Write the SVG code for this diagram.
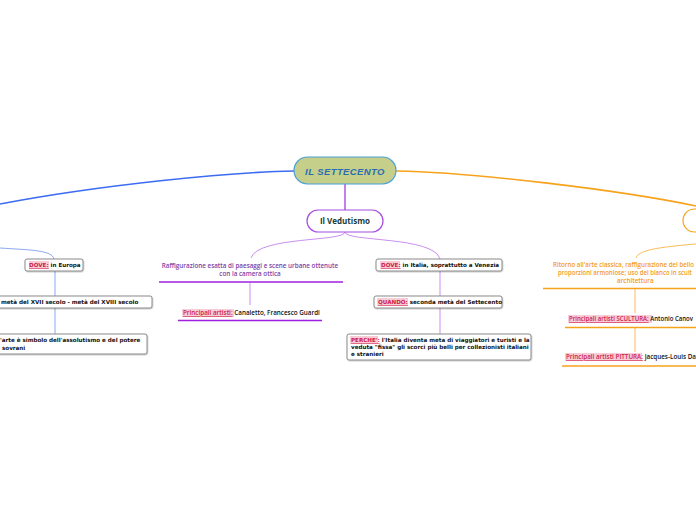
<svg xmlns="http://www.w3.org/2000/svg" width="696" height="520" viewBox="0 0 696 520">
<style>
.box{fill:#fff;stroke:#8a8a8a;stroke-width:1}
.bt{font-family:"DejaVu Sans",Verdana,sans-serif;font-weight:bold;font-size:5.6px;fill:#111}
.lab{fill:#d0204a;text-decoration:underline}
.hl{fill:#f6cdd6}
.pt{font-family:"Open Sans","Noto Sans",sans-serif;font-weight:600;font-size:6.3px;fill:#7b3fa8}
.ot{font-family:"Open Sans","Noto Sans",sans-serif;font-weight:600;font-size:6.3px;fill:#f39a1c}
.at{font-family:"Open Sans","Noto Sans",sans-serif;font-weight:600;font-size:6.3px;fill:#111}
.al{fill:#d0204a;text-decoration:underline}
</style>
<defs>
<filter id="sh" x="-10%" y="-30%" width="120%" height="160%"><feDropShadow dx="0.6" dy="0.8" stdDeviation="0.6" flood-color="#000" flood-opacity="0.25"/></filter>
</defs>
<g id="connectors" fill="none">
<path d="M294,171 C230,172 100,185 0,204" stroke="#3b6cf2" stroke-width="1.6"/>
<path d="M0,248 C30,250 52,250 54,259" stroke="#8aa8f2" stroke-width="1"/>
<path d="M55,271 V296" stroke="#8aa8f2" stroke-width="1"/>
<path d="M55,308 V334" stroke="#8aa8f2" stroke-width="1"/>
<path d="M396,171 C470,172 620,190 696,206" stroke="#f7a21b" stroke-width="1.6"/>
<path d="M696,244 C660,247 638,250 636,258" stroke="#f8bc5c" stroke-width="1"/>
<path d="M635,289 V313" stroke="#f8bc5c" stroke-width="1"/>
<path d="M635,328 V352" stroke="#f8bc5c" stroke-width="1"/>
<path d="M345,184 V210" stroke="#a64ce0" stroke-width="1.4"/>
<path d="M345,232 C345,242 258,236 251,258" stroke="#c98ff0" stroke-width="1"/>
<path d="M345,232 C345,242 434,236 440,259" stroke="#c98ff0" stroke-width="1"/>
<path d="M250,283 V305" stroke="#c98ff0" stroke-width="1"/>
<path d="M440,271 V296" stroke="#c98ff0" stroke-width="1"/>
<path d="M440,308 V334" stroke="#c98ff0" stroke-width="1"/>
</g>
<g id="root">
<rect x="294" y="157" width="102" height="27" rx="13.5" fill="#c5cf8a" stroke="#4a9fd6" stroke-width="1.2"/>
<text x="345" y="174.5" text-anchor="middle" font-family="'Liberation Sans',Arial,sans-serif" font-weight="bold" font-style="italic" font-size="9.5" letter-spacing="0.4" fill="#2a6db3">IL SETTECENTO</text>
</g>
<g id="vedutismo">
<rect x="307" y="210" width="76" height="22" rx="11" fill="#fff" stroke="#a64ce0" stroke-width="1.2"/>
<text x="345" y="224" text-anchor="middle" font-family="'Open Sans','Noto Sans',sans-serif" font-weight="bold" font-size="8" fill="#1b3c3a">Il Vedutismo</text>
</g>
<g id="orange-node">
<rect x="683" y="209" width="60" height="23" rx="11.5" fill="#fff" stroke="#f7a21b" stroke-width="1.2"/>
</g>
<g id="left-dove">
<rect class="box" x="25" y="259" width="58" height="12" rx="2" filter="url(#sh)"/>
<rect class="hl" x="29" y="261" width="20" height="8"/>
<text class="bt" x="29" y="267.2"><tspan class="lab">DOVE:</tspan> in Europa</text>
</g>
<g id="left-quando">
<rect class="box" x="-10" y="296" width="162" height="12" rx="2" filter="url(#sh)"/>
<text class="bt" x="1" y="304.2">metà del XVII secolo - metà del XVIII secolo</text>
</g>
<g id="left-perche">
<rect class="box" x="-10" y="334" width="157" height="20" rx="2" filter="url(#sh)"/>
<text class="bt" x="0" y="342">'arte è simbolo dell'assolutismo e del potere</text>
<text class="bt" x="2" y="349.5">sovrani</text>
</g>
<g id="raffigurazione">
<text class="pt" x="250" y="267.5" text-anchor="middle">Raffigurazione esatta di paesaggi e scene urbane ottenute</text>
<text class="pt" x="250" y="275.5" text-anchor="middle">con la camera ottica</text>
<line x1="159" y1="282" x2="343" y2="282" stroke="#a020e0" stroke-width="1.6"/>
</g>
<g id="principali-artisti">
<rect class="hl" x="182" y="309" width="52" height="8"/>
<text class="at" x="183" y="315"><tspan class="al">Principali artisti:</tspan> Canaletto, Francesco Guardi</text>
<line x1="178" y1="320.5" x2="322" y2="320.5" stroke="#a020e0" stroke-width="1.6"/>
</g>
<g id="right-dove">
<rect class="box" x="376" y="259" width="126" height="12" rx="2" filter="url(#sh)"/>
<rect class="hl" x="380" y="261" width="20" height="8"/>
<text class="bt" x="381" y="267.2"><tspan class="lab">DOVE:</tspan> in Italia, soprattutto a Venezia</text>
</g>
<g id="right-quando">
<rect class="box" x="374" y="296" width="128" height="12" rx="2" filter="url(#sh)"/>
<rect class="hl" x="377" y="298" width="31" height="8"/>
<text class="bt" x="378" y="304.2"><tspan class="lab">QUANDO:</tspan> seconda metà del Settecento</text>
</g>
<g id="right-perche">
<rect class="box" x="347" y="334" width="184" height="26" rx="2" filter="url(#sh)"/>
<rect class="hl" x="350" y="336" width="28" height="8"/>
<text class="bt" x="351" y="342"><tspan class="lab">PERCHE':</tspan> l'Italia diventa meta di viaggiatori e turisti e la</text>
<text class="bt" x="351" y="349">veduta "fissa" gli scorci più belli per collezionisti italiani</text>
<text class="bt" x="351" y="356">e stranieri</text>
</g>
<g id="ritorno">
<text class="ot" x="553" y="267" textLength="141" lengthAdjust="spacingAndGlyphs">Ritorno all'arte classica, raffigurazione del bello</text>
<text class="ot" x="558" y="275" textLength="134" lengthAdjust="spacingAndGlyphs">proporzioni armoniose; uso del bianco in scult</text>
<text class="ot" x="617" y="283">architettura</text>
<line x1="543" y1="288.5" x2="696" y2="288.5" stroke="#f7a21b" stroke-width="1.6"/>
</g>
<g id="scultura">
<rect class="hl" x="568" y="315" width="84" height="8"/>
<text class="at" x="569" y="321" textLength="124" lengthAdjust="spacingAndGlyphs"><tspan class="al">Principali artisti SCULTURA:</tspan> Antonio Canov</text>
<line x1="565" y1="327.5" x2="696" y2="327.5" stroke="#f7a21b" stroke-width="1.6"/>
</g>
<g id="pittura">
<rect class="hl" x="565" y="353" width="77" height="8"/>
<text class="at" x="566" y="359"><tspan class="al">Principali artisti PITTURA:</tspan> Jacques-Louis Da</text>
<line x1="562" y1="366" x2="696" y2="366" stroke="#f7a21b" stroke-width="1.6"/>
</g>
</svg>
